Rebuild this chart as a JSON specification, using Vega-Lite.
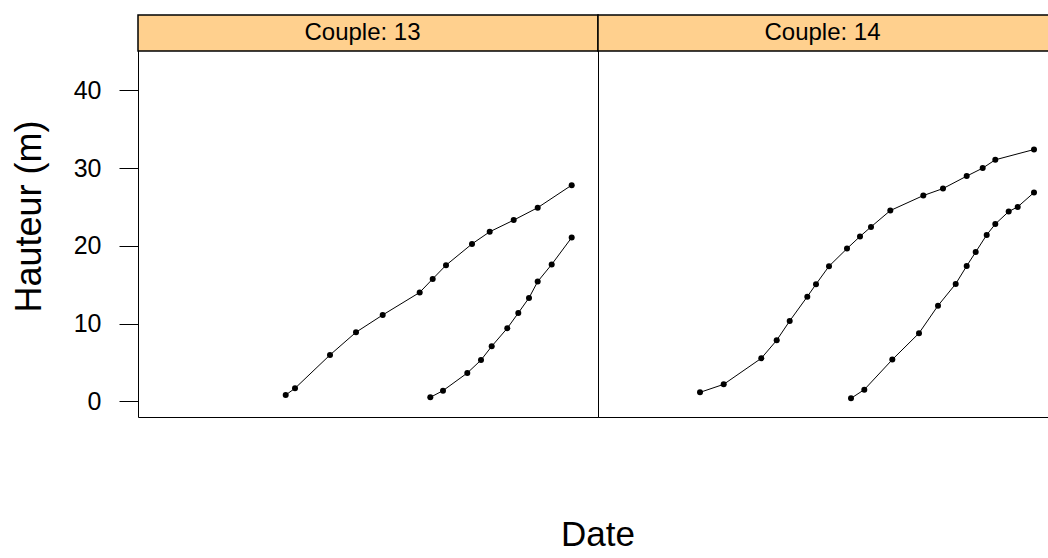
{
  "$schema": "https://vega.github.io/schema/vega-lite/v6.json",
  "padding": {"left": 11, "top": 13, "right": 0, "bottom": 0},
  "background": "white",
  "bounds": "flush",
  "config": {"view": {"stroke": "black", "strokeWidth": 1}, "font": "Liberation Sans"},
  "data": {"values": [
    {"couple": "Couple: 13", "arbre": "A", "date": 1964.77, "hauteur": 0.81},
    {"couple": "Couple: 13", "arbre": "A", "date": 1965.7, "hauteur": 1.67},
    {"couple": "Couple: 13", "arbre": "A", "date": 1969.2, "hauteur": 5.96},
    {"couple": "Couple: 13", "arbre": "A", "date": 1971.8, "hauteur": 8.88},
    {"couple": "Couple: 13", "arbre": "A", "date": 1974.47, "hauteur": 11.1},
    {"couple": "Couple: 13", "arbre": "A", "date": 1978.17, "hauteur": 14.0},
    {"couple": "Couple: 13", "arbre": "A", "date": 1979.47, "hauteur": 15.74},
    {"couple": "Couple: 13", "arbre": "A", "date": 1980.8, "hauteur": 17.5},
    {"couple": "Couple: 13", "arbre": "A", "date": 1983.4, "hauteur": 20.24},
    {"couple": "Couple: 13", "arbre": "A", "date": 1985.17, "hauteur": 21.8},
    {"couple": "Couple: 13", "arbre": "A", "date": 1987.57, "hauteur": 23.3},
    {"couple": "Couple: 13", "arbre": "A", "date": 1989.97, "hauteur": 24.9},
    {"couple": "Couple: 13", "arbre": "A", "date": 1993.37, "hauteur": 27.8},
    {"couple": "Couple: 13", "arbre": "B", "date": 1979.23, "hauteur": 0.51},
    {"couple": "Couple: 13", "arbre": "B", "date": 1980.5, "hauteur": 1.37},
    {"couple": "Couple: 13", "arbre": "B", "date": 1982.93, "hauteur": 3.64},
    {"couple": "Couple: 13", "arbre": "B", "date": 1984.3, "hauteur": 5.3},
    {"couple": "Couple: 13", "arbre": "B", "date": 1985.37, "hauteur": 7.07},
    {"couple": "Couple: 13", "arbre": "B", "date": 1986.93, "hauteur": 9.4},
    {"couple": "Couple: 13", "arbre": "B", "date": 1988.03, "hauteur": 11.36},
    {"couple": "Couple: 13", "arbre": "B", "date": 1989.1, "hauteur": 13.3},
    {"couple": "Couple: 13", "arbre": "B", "date": 1989.97, "hauteur": 15.4},
    {"couple": "Couple: 13", "arbre": "B", "date": 1991.37, "hauteur": 17.6},
    {"couple": "Couple: 13", "arbre": "B", "date": 1993.37, "hauteur": 21.06},
    {"couple": "Couple: 14", "arbre": "C", "date": 1960.2, "hauteur": 1.15},
    {"couple": "Couple: 14", "arbre": "C", "date": 1962.57, "hauteur": 2.18},
    {"couple": "Couple: 14", "arbre": "C", "date": 1966.33, "hauteur": 5.53},
    {"couple": "Couple: 14", "arbre": "C", "date": 1967.87, "hauteur": 7.85},
    {"couple": "Couple: 14", "arbre": "C", "date": 1969.17, "hauteur": 10.33},
    {"couple": "Couple: 14", "arbre": "C", "date": 1970.93, "hauteur": 13.46},
    {"couple": "Couple: 14", "arbre": "C", "date": 1971.8, "hauteur": 15.06},
    {"couple": "Couple: 14", "arbre": "C", "date": 1973.1, "hauteur": 17.37},
    {"couple": "Couple: 14", "arbre": "C", "date": 1974.9, "hauteur": 19.64},
    {"couple": "Couple: 14", "arbre": "C", "date": 1976.2, "hauteur": 21.2},
    {"couple": "Couple: 14", "arbre": "C", "date": 1977.3, "hauteur": 22.43},
    {"couple": "Couple: 14", "arbre": "C", "date": 1979.23, "hauteur": 24.53},
    {"couple": "Couple: 14", "arbre": "C", "date": 1982.53, "hauteur": 26.46},
    {"couple": "Couple: 14", "arbre": "C", "date": 1984.5, "hauteur": 27.36},
    {"couple": "Couple: 14", "arbre": "C", "date": 1986.87, "hauteur": 28.96},
    {"couple": "Couple: 14", "arbre": "C", "date": 1988.47, "hauteur": 29.99},
    {"couple": "Couple: 14", "arbre": "C", "date": 1989.73, "hauteur": 31.06},
    {"couple": "Couple: 14", "arbre": "C", "date": 1993.6, "hauteur": 32.38},
    {"couple": "Couple: 14", "arbre": "D", "date": 1975.3, "hauteur": 0.38},
    {"couple": "Couple: 14", "arbre": "D", "date": 1976.63, "hauteur": 1.5},
    {"couple": "Couple: 14", "arbre": "D", "date": 1979.43, "hauteur": 5.36},
    {"couple": "Couple: 14", "arbre": "D", "date": 1982.1, "hauteur": 8.76},
    {"couple": "Couple: 14", "arbre": "D", "date": 1984.0, "hauteur": 12.3},
    {"couple": "Couple: 14", "arbre": "D", "date": 1985.77, "hauteur": 15.1},
    {"couple": "Couple: 14", "arbre": "D", "date": 1986.87, "hauteur": 17.4},
    {"couple": "Couple: 14", "arbre": "D", "date": 1987.77, "hauteur": 19.2},
    {"couple": "Couple: 14", "arbre": "D", "date": 1988.87, "hauteur": 21.4},
    {"couple": "Couple: 14", "arbre": "D", "date": 1989.73, "hauteur": 22.8},
    {"couple": "Couple: 14", "arbre": "D", "date": 1991.07, "hauteur": 24.4},
    {"couple": "Couple: 14", "arbre": "D", "date": 1991.97, "hauteur": 25.0},
    {"couple": "Couple: 14", "arbre": "D", "date": 1993.6, "hauteur": 26.85}
  ]},
  "spacing": 0,
  "facet": {"column": {"field": "couple", "type": "nominal",
    "header": {"labels": false, "title": "Date", "titleOrient": "bottom", "titleFontSize": 35, "titleFont": "Liberation Sans", "titleFontWeight": "normal", "titleColor": "black", "titlePadding": 91}}},
  "spec": {
    "width": 460,
    "height": 402,
    "layer": [
      {
        "transform": [{"aggregate": [{"op": "count", "as": "n"}], "groupby": ["couple"]}],
        "mark": {"type": "rect", "fill": "#FFD08E", "stroke": "black", "strokeWidth": 1.5},
        "encoding": {
          "x": {"datum": 1950, "type": "quantitative"},
          "x2": {"datum": 1996},
          "y": {"datum": 45.05, "type": "quantitative"},
          "y2": {"datum": 49.68}
        }
      },
      {
        "transform": [{"aggregate": [{"op": "count", "as": "n"}], "groupby": ["couple"]}],
        "mark": {"type": "text", "fontSize": 24, "font": "Liberation Sans", "baseline": "middle", "align": "center", "color": "black"},
        "encoding": {
          "x": {"datum": 1972.45, "type": "quantitative"},
          "y": {"datum": 47.37, "type": "quantitative"},
          "text": {"field": "couple"}
        }
      },
      {
        "mark": {"type": "line", "color": "black", "strokeWidth": 1},
        "encoding": {
          "x": {"field": "date", "type": "quantitative",
            "scale": {"domain": [1950, 1996], "nice": false, "zero": false},
            "axis": {"title": null, "labels": false, "ticks": false, "domain": false, "grid": false}},
          "y": {"field": "hauteur", "type": "quantitative",
            "scale": {"domain": [-2.02, 49.68], "nice": false, "zero": false},
            "axis": {"title": "Hauteur (m)", "values": [0, 10, 20, 30, 40], "grid": false, "domain": false,
              "tickSize": 19, "tickColor": "black", "tickWidth": 1,
              "labelFontSize": 25, "labelFont": "Liberation Sans", "labelColor": "black", "labelPadding": 18,
              "titleFontSize": 36, "titleFont": "Liberation Sans", "titleFontWeight": "normal", "titleColor": "black", "titlePadding": 25}},
          "detail": {"field": "arbre"}
        }
      },
      {
        "mark": {"type": "point", "filled": true, "color": "black", "size": 36, "opacity": 1},
        "encoding": {
          "x": {"field": "date", "type": "quantitative"},
          "y": {"field": "hauteur", "type": "quantitative"}
        }
      }
    ]
  }
}
